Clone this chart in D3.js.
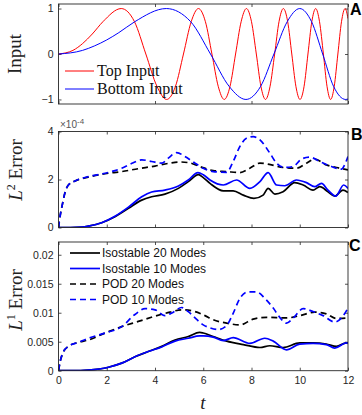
<!DOCTYPE html>
<html><head><meta charset="utf-8">
<script src="https://cdn.jsdelivr.net/npm/d3@7"></script>
<style>body{margin:0;background:#fff}svg{display:block}</style>
</head><body><svg id="c" width="362" height="415"></svg>
<script>
// ---------- data ----------
// Panel A: inputs
const topInputT = [0,0.6,1.0,1.4,1.84,2.60,3.15,3.62,4.08,4.48,4.85,5.18,5.50,5.80,6.09,6.36,6.62,6.87,7.11,7.34,7.57,7.79,8.00,8.20,8.39,8.58,8.77,8.96,9.14,9.32,9.50,9.67,9.84,10.01,10.18,10.34,10.50,10.66,10.82,10.98,11.13,11.28,11.43,11.58,11.73,11.88,12.0];
const topInputV = [0,0.08,0.23,0.44,0.71,1,0.71,0,-0.71,-1,-0.71,0,0.71,1,0.71,0,-0.71,-1,-0.71,0,0.71,1,0.71,0,-0.71,-1,-0.71,0,0.71,1,0.71,0,-0.71,-1,-0.71,0,0.71,1,0.71,0,-0.71,-1,-0.71,0,0.71,1,0.78];
const bottomInputT = [0,1.0,1.5,2.0,2.5,3.16,4.47,5.48,6.30,7.07,7.77,8.38,8.93,9.48,10.0,10.49,10.95,11.40,11.90,12.0];
const bottomInputV = [0,0.08,0.18,0.31,0.47,0.71,1,0.71,0,-0.71,-1,-0.71,0,0.71,1,0.71,0,-0.71,-1,-0.99];

// Panel B: L2 error (units of 1e-4)
const l2Iso20T = [0,0.5,1.0,1.24,1.79,2.34,2.9,3.45,3.86,4.41,4.97,5.38,5.8,6.0,6.28,6.83,7.24,7.66,8.1,8.48,8.69,8.97,9.31,9.79,10.14,10.55,10.83,11.17,11.45,11.79,12.0];
const l2Iso20V = [0,0,0.02,0.06,0.2,0.45,0.8,1.14,1.28,1.39,1.63,1.91,2.2,2.08,1.84,1.53,1.53,1.35,1.21,1.35,1.63,1.39,1.49,1.87,1.77,1.56,1.70,1.49,1.31,1.56,1.46];
const l2Iso10T = [0,0.5,1.0,1.24,1.79,2.34,2.9,3.45,3.86,4.41,4.97,5.38,5.78,6.0,6.28,6.83,7.38,7.93,8.35,8.69,9.04,9.38,9.86,10.28,10.62,10.9,11.17,11.49,11.82,12.0];
const l2Iso10V = [0,0,0.02,0.06,0.2,0.47,0.85,1.28,1.48,1.56,1.73,1.98,2.29,2.2,1.98,1.77,1.98,1.63,1.91,2.29,1.77,1.74,1.98,1.87,1.70,1.84,1.56,1.31,1.77,1.63];
const l2Pod20T = [0,0.07,0.14,0.28,0.41,0.69,1.24,1.93,2.62,3.3,4.0,4.6,5.0,5.4,5.86,6.41,6.97,7.52,7.93,8.35,8.83,9.31,9.86,10.28,10.62,11.1,11.66,12.0];
const l2Pod20V = [0,0.5,0.86,1.49,1.77,1.94,2.1,2.24,2.33,2.45,2.56,2.68,2.73,2.70,2.54,2.37,2.33,2.29,2.47,2.68,2.61,2.50,2.47,2.68,2.85,2.61,2.47,2.40];
const l2Pod10T = [0,0.07,0.14,0.28,0.41,0.69,1.24,1.93,2.62,3.1,3.45,3.86,4.28,4.55,4.9,5.24,5.66,6.0,6.41,6.97,7.24,7.52,7.79,8.07,8.35,8.76,9.04,9.38,9.73,10.07,10.42,10.83,11.31,11.73,11.86,12.0];
const l2Pod10V = [0,0.5,0.86,1.49,1.77,1.94,2.12,2.26,2.47,2.7,2.82,2.75,2.68,2.89,3.12,2.96,2.68,2.47,2.33,2.30,2.75,3.38,3.72,3.79,3.65,3.10,2.68,2.50,2.54,2.85,2.93,2.75,2.54,2.43,2.61,2.96];

// Panel C: L1 error
const l1Iso20T = [0,0.6,1.24,2.07,2.62,3.17,3.72,4.28,4.83,5.38,5.85,6.0,6.41,6.97,7.66,8.35,8.76,9.31,10.0,10.55,11.1,11.52,11.93,12.0];
const l1Iso20V = [0,0,0.0001,0.0006,0.0013,0.0024,0.0033,0.0042,0.0053,0.0059,0.0066,0.0065,0.0059,0.0051,0.0045,0.0040,0.0043,0.0040,0.0048,0.0048,0.0046,0.0042,0.0048,0.0048];
const l1Iso10T = [0,0.6,1.24,2.07,2.62,3.17,3.72,4.28,4.83,5.38,5.85,6.0,6.41,6.83,7.24,7.93,8.55,8.9,9.45,10.0,10.55,11.1,11.45,11.93,12.0];
const l1Iso10V = [0,0,0.0001,0.0006,0.0013,0.0024,0.0033,0.0041,0.0051,0.0056,0.0060,0.0060,0.0058,0.0052,0.0057,0.0047,0.0056,0.0051,0.0036,0.0046,0.0047,0.0045,0.0039,0.0048,0.0047];
const l1Pod20T = [0,0.07,0.21,0.41,0.83,1.24,1.93,2.62,3.31,4.0,4.62,5.1,5.66,6.07,6.41,6.97,7.52,8.07,8.62,9.45,10.0,10.62,11.1,11.52,12.0];
const l1Pod20V = [0,0.0016,0.0033,0.0042,0.0049,0.0053,0.0065,0.0076,0.0085,0.0094,0.0101,0.0105,0.0102,0.0095,0.0088,0.0082,0.0079,0.0089,0.0092,0.0091,0.0095,0.0101,0.0098,0.0090,0.0091];
const l1Pod10T = [0,0.07,0.21,0.41,0.83,1.24,1.93,2.62,3.17,3.59,4.0,4.41,4.76,5.1,5.38,5.66,6.0,6.28,6.62,6.97,7.24,7.52,7.86,8.21,8.55,8.9,9.17,9.45,9.73,10.14,10.55,10.97,11.45,11.73,12.0];
const l1Pod10V = [0,0.0016,0.0033,0.0042,0.0049,0.0056,0.0065,0.0076,0.0097,0.0107,0.0105,0.0095,0.0101,0.0109,0.0102,0.0091,0.0079,0.0074,0.0071,0.0078,0.0099,0.0125,0.0136,0.0136,0.0125,0.0108,0.0092,0.0082,0.0091,0.0107,0.0102,0.0095,0.0084,0.0091,0.0108];

const inputLegend = ["Top Input","Bottom Input"];
const errorLegend = ["Isostable 20 Modes","Isostable 10 Modes","POD 20 Modes","POD 10 Modes"];
const xTicksA = [0,4,8,12];
const xTicksBC = [0,2,4,6,8,10,12];
const yTicksA = [-1,0,1];
const yTicksB = [0,2,4];
const yTicksC = [0,0.005,0.01,0.015,0.02];

// ---------- drawing ----------
const svg = d3.select("#c");
const AX = "#262626";
const SANS = "'Liberation Sans', Arial, Helvetica, sans-serif";
const SERIF = "'Liberation Serif', 'Times New Roman', serif";
const x = d3.scaleLinear().domain([0,12]).range([58.5,348]);

function panel(id, yDomain, yRange, yTicks, xTicks, xLabels, yFmt) {
  const y = d3.scaleLinear().domain(yDomain).range(yRange);
  const g = svg.append("g");
  const [x0,x1] = x.range(), y0 = yRange[0], y1 = yRange[1];
  svg.append("clipPath").attr("id","clip"+id).append("rect")
     .attr("x",x0).attr("y",y1).attr("width",x1-x0).attr("height",y0-y1);
  const styleAxis = (sel) => {
    sel.select(".domain").remove();
    sel.selectAll(".tick line").attr("stroke",AX).attr("stroke-width",0.8);
    sel.selectAll(".tick text").attr("fill",AX).style("font-family",SANS).style("font-size","10.5px");
  };
  g.append("g").attr("transform",`translate(0,${y0})`)
   .call(d3.axisBottom(x).tickValues(xTicks).tickSize(-3).tickPadding(6)
     .tickFormat(xLabels ? d3.format("d") : () => ""))
   .call(styleAxis);
  g.append("g").attr("transform",`translate(0,${y1})`)
   .call(d3.axisTop(x).tickValues(xTicks).tickSize(-3).tickFormat(() => ""))
   .call(styleAxis);
  g.append("g").attr("transform",`translate(${x0},0)`)
   .call(d3.axisLeft(y).tickValues(yTicks).tickSize(-3).tickPadding(5).tickFormat(yFmt))
   .call(styleAxis);
  g.append("g").attr("transform",`translate(${x1},0)`)
   .call(d3.axisRight(y).tickValues(yTicks).tickSize(-3).tickFormat(() => ""))
   .call(styleAxis);
  const lines = svg.append("g").attr("clip-path",`url(#clip${id})`);
  svg.append("rect").attr("x",x0).attr("y",y1).attr("width",x1-x0).attr("height",y0-y1)
     .attr("fill","none").attr("stroke",AX).attr("stroke-width",0.9);
  return {y, lines};
}

function drawLine(p, ts, vs, color, width, dash) {
  const line = d3.line().x(d => x(d[0])).y(d => p.y(d[1])).curve(d3.curveMonotoneX);
  p.lines.append("path").datum(d3.zip(ts, vs))
    .attr("d", line).attr("fill","none").attr("stroke",color)
    .attr("stroke-width",width).attr("stroke-dasharray",dash || null)
    .attr("stroke-linejoin","round");
}

// Panel A
const pA = panel("A",[-1.1,1.1],[104,4],yTicksA,xTicksA,false,d3.format("d"));
drawLine(pA, topInputT, topInputV, "#ff0000", 1);
drawLine(pA, bottomInputT, bottomInputV, "#0000ff", 1);

// Panel B
const pB = panel("B",[0,4],[227.5,131.5],yTicksB,xTicksBC,false,d3.format("d"));
drawLine(pB, l2Iso20T, l2Iso20V, "#000", 1.7);
drawLine(pB, l2Iso10T, l2Iso10V, "#0000ff", 1.7);
drawLine(pB, l2Pod20T, l2Pod20V, "#000", 1.7, "6,4");
drawLine(pB, l2Pod10T, l2Pod10V, "#0000ff", 1.7, "6,4");

// Panel C
const pC = panel("C",[0,0.0222],[370.7,242],yTicksC,xTicksBC,true,d => d === 0 ? "0" : String(d));
drawLine(pC, l1Iso20T, l1Iso20V, "#000", 1.7);
drawLine(pC, l1Iso10T, l1Iso10V, "#0000ff", 1.7);
drawLine(pC, l1Pod20T, l1Pod20V, "#000", 1.7, "6,4");
drawLine(pC, l1Pod10T, l1Pod10V, "#0000ff", 1.7, "6,4");

// Legend A
const legA = [["#ff0000",71],["#0000ff",89]];
legA.forEach(([c,yy],i) => {
  svg.append("line").attr("x1",65).attr("x2",94).attr("y1",yy).attr("y2",yy).attr("stroke",c).attr("stroke-width",1);
  svg.append("text").attr("x",97).attr("y",yy+5).text(inputLegend[i])
     .style("font-family",SERIF).style("font-size","16px").attr("fill","#111");
});

// Legend C
const legC = [["#000",null,253],["#0000ff",null,268.5],["#000","6,4",284],["#0000ff","6,4",299.5]];
legC.forEach(([c,dash,yy],i) => {
  svg.append("line").attr("x1",70).attr("x2",100).attr("y1",yy).attr("y2",yy)
     .attr("stroke",c).attr("stroke-width",1.7).attr("stroke-dasharray",dash);
  svg.append("text").attr("x",102).attr("y",yy+4.3).text(errorLegend[i])
     .style("font-family",SANS).style("font-size","12px").attr("fill","#111");
});

// Y labels
function ylabel(cx, cy, build) {
  const t = svg.append("text").attr("transform",`translate(${cx},${cy}) rotate(-90)`)
    .attr("text-anchor","middle").style("font-family",SERIF).style("font-size","19px").attr("fill","#222");
  build(t);
}
ylabel(21, 54, t => t.text("Input"));
ylabel(22, 170, t => {
  t.append("tspan").style("font-style","italic").text("L");
  t.append("tspan").attr("dy",-7).style("font-size","12px").text("2");
  t.append("tspan").attr("dy",7).text("\u00a0Error");
});
ylabel(22, 300, t => {
  t.append("tspan").style("font-style","italic").text("L");
  t.append("tspan").attr("dy",-7).style("font-size","12px").text("1");
  t.append("tspan").attr("dy",7).text("\u00a0Error");
});

// x label
svg.append("text").attr("x",203).attr("y",409).attr("text-anchor","middle")
   .style("font-family",SERIF).style("font-style","italic").style("font-size","19px").attr("fill","#222").text("t");

// exponent label for panel B
const ex = svg.append("text").attr("x",60).attr("y",128).style("font-family",SANS).style("font-size","10px").attr("fill","#555");
ex.append("tspan").text("\u00d710");
ex.append("tspan").attr("dy",-4).style("font-size","8px").text("-4");

// panel letters
[["A",350,15],["B",351,140],["C",349,251]].forEach(([s,xx,yy]) => {
  svg.append("text").attr("x",xx).attr("y",yy).text(s)
     .style("font-family",SANS).style("font-weight","bold").style("font-size","16px").attr("fill","#000");
});
</script></body></html>
